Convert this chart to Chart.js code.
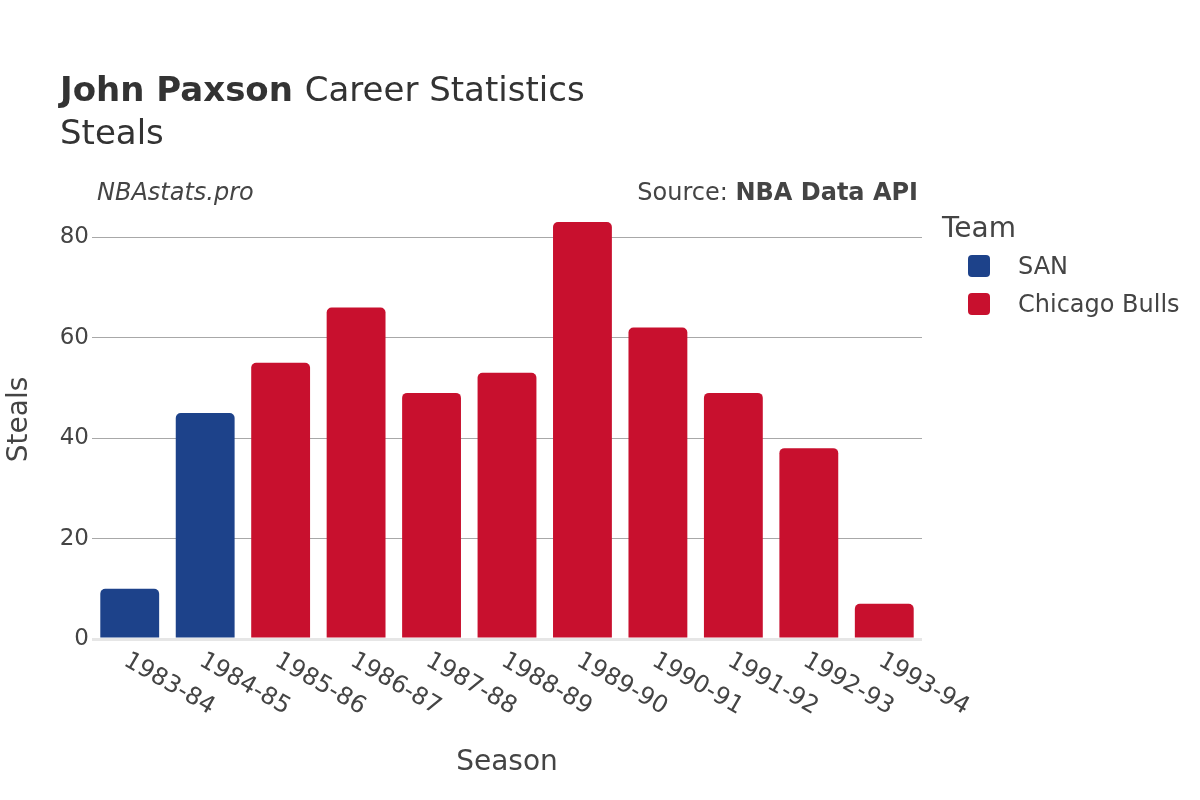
<!DOCTYPE html>
<html>
<head>
<meta charset="utf-8">
<script src="https://cdn.jsdelivr.net/npm/chart.js@4/dist/chart.umd.min.js"></script>
<style>
  html, body { margin: 0; padding: 0; background: #fff; }
  #wrap { width: 1200px; height: 800px; position: relative; }
</style>
</head>
<body>
<div id="wrap"><canvas id="c" width="1200" height="800"></canvas></div>
<script>
const seasons = ["1983-84","1984-85","1985-86","1986-87","1987-88","1988-89","1989-90","1990-91","1991-92","1992-93","1993-94"];
const sanSteals = [10, 45, null, null, null, null, null, null, null, null, null];
const bullsSteals = [null, null, 55, 66, 49, 53, 83, 62, 49, 38, 7];
const teamNames = ["SAN", "Chicago Bulls"];
const teamColors = ["#1d428a", "#c8102e"];
const yTickValues = [0, 20, 40, 60, 80];

const FONT = "'DejaVu Sans', sans-serif";
const TEXT = "#444";

const overlay = {
  id: 'overlay',
  afterDraw(chart) {
    const ctx = chart.ctx;
    const x = chart.scales.x;
    const area = chart.chartArea;
    ctx.save();
    // Title
    ctx.fillStyle = "#333";
    ctx.textBaseline = 'alphabetic';
    ctx.textAlign = 'left';
    ctx.font = "bold 34px " + FONT;
    ctx.fillText("John Paxson", 60, 101);
    const w = ctx.measureText("John Paxson ").width;
    ctx.font = "34px " + FONT;
    ctx.fillText("Career Statistics", 60 + w, 101);
    ctx.fillText("Steals", 60, 144);
    // Subtitle row
    ctx.fillStyle = TEXT;
    ctx.font = "italic 24px " + FONT;
    ctx.fillText("NBAstats.pro", 97, 200);
    ctx.textAlign = 'right';
    ctx.font = "bold 24px " + FONT;
    const api = "NBA Data API";
    ctx.fillText(api, 918, 200);
    const aw = ctx.measureText(api).width;
    ctx.font = "24px " + FONT;
    ctx.fillText("Source: ", 918 - aw, 200);
    // Legend
    ctx.textAlign = 'left';
    ctx.font = "28px " + FONT;
    ctx.fillText("Team", 942, 237);
    ctx.font = "24px " + FONT;
    teamNames.forEach((n, i) => {
      const yy = 266 + i * 38;
      ctx.fillStyle = teamColors[i];
      ctx.beginPath();
      ctx.roundRect(968, yy - 11, 22, 22, 4);
      ctx.fill();
      ctx.fillStyle = TEXT;
      ctx.textBaseline = 'middle';
      ctx.fillText(n, 1018, yy + 2);
    });
    // X tick labels, rotated 30deg
    ctx.font = "24px " + FONT;
    ctx.fillStyle = TEXT;
    ctx.textAlign = 'left';
    ctx.textBaseline = 'middle';
    seasons.forEach((s, i) => {
      const px = x.getPixelForTick(i);
      ctx.save();
      ctx.translate(px - 4, area.bottom + 20);
      ctx.rotate(Math.PI / 6);
      ctx.fillText(s, 0, 0);
      ctx.restore();
    });
    // Axis titles
    ctx.font = "28px " + FONT;
    ctx.textAlign = 'center';
    ctx.textBaseline = 'alphabetic';
    ctx.fillText("Season", (area.left + area.right) / 2, 770);
    ctx.save();
    ctx.translate(27, (area.top + area.bottom) / 2);
    ctx.rotate(-Math.PI / 2);
    ctx.fillText("Steals", 0, 0);
    ctx.restore();
    ctx.restore();
  }
};

new Chart(document.getElementById('c'), {
  type: 'bar',
  data: {
    labels: seasons,
    datasets: [
      { label: teamNames[0], data: sanSteals, backgroundColor: teamColors[0], grouped: false,
        borderRadius: { topLeft: 5, topRight: 5, bottomLeft: 0, bottomRight: 0 }, borderSkipped: 'bottom' },
      { label: teamNames[1], data: bullsSteals, backgroundColor: teamColors[1], grouped: false,
        borderRadius: { topLeft: 5, topRight: 5, bottomLeft: 0, bottomRight: 0 }, borderSkipped: 'bottom' }
    ]
  },
  options: {
    responsive: false,
    animation: false,
    devicePixelRatio: 1,
    layout: { padding: { top: 200, right: 278, left: 0, bottom: 0 } },
    datasets: { bar: { barPercentage: 0.78, categoryPercentage: 1.0 } },
    plugins: { legend: { display: false }, tooltip: { enabled: false }, title: { display: false } },
    scales: {
      x: {
        ticks: { display: false },
        grid: { display: false },
        border: { display: false },
        afterFit(s) { s.height = 161; }
      },
      y: {
        min: 0, max: 87.4,
        afterBuildTicks(s) { s.ticks = yTickValues.map(v => ({ value: v })); },
        ticks: { font: { family: FONT, size: 23 }, color: TEXT, padding: 3 },
        grid: {
          drawTicks: false,
          color: (c) => c.tick && c.tick.value === 0 ? '#e6e6e6' : '#a8a8a8',
          lineWidth: (c) => c.tick && c.tick.value === 0 ? 3 : 1
        },
        border: { display: false },
        afterFit(s) { s.width = 92; }
      }
    }
  },
  plugins: [overlay]
});
</script>
</body>
</html>
